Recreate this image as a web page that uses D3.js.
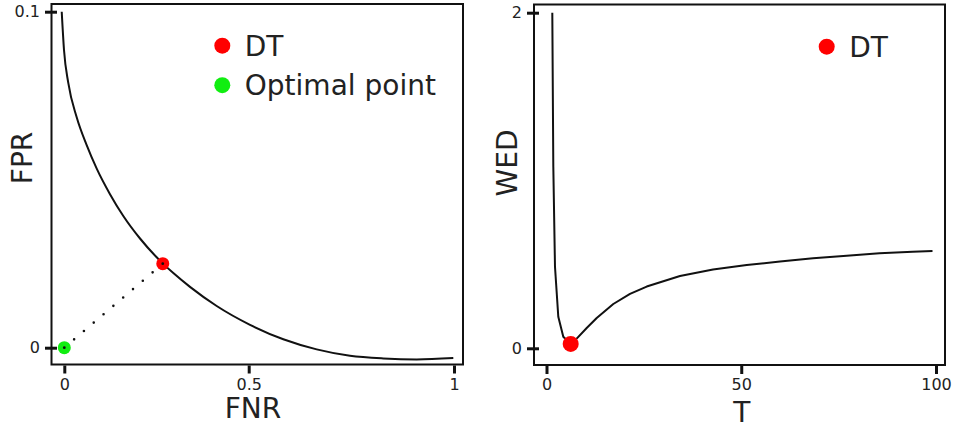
<!DOCTYPE html>
<html>
<head>
<meta charset="utf-8">
<script src="https://cdn.jsdelivr.net/npm/d3@7"></script>
<style>
  html, body { margin: 0; padding: 0; background: #fff; }
  svg { display: block; font-family: "DejaVu Sans", sans-serif; }
</style>
</head>
<body>
<svg id="chart" width="955" height="429"></svg>
<script>
// ---------- data ----------
const fnrValues = [-0.0070, -0.0008, 0.0108, 0.0336, 0.0607, 0.0879, 0.1239, 0.1600, 0.2053, 0.2505, 0.2668, 0.2956, 0.3408, 0.4132, 0.5032, 0.5843, 0.6656, 0.7467, 0.8278, 0.9091, 0.9983];
const fprValues = [0.1000, 0.0886, 0.0788, 0.0686, 0.0603, 0.0533, 0.0457, 0.0392, 0.0325, 0.0269, 0.0251, 0.0222, 0.0181, 0.0124, 0.0068, 0.0025, -0.0005, -0.0024, -0.0032, -0.0035, -0.0031];

const tValues   = [1.49, 1.75, 2.18, 3.03, 4.31, 6.21, 7.75, 10.32, 12.89, 17.15, 21.44, 25.73, 34.27, 42.75, 51.40, 59.95, 68.43, 77.07, 85.5, 94.0, 99.1];
const wedValues = [2.0, 1.082, 0.486, 0.188, 0.069, 0.026, 0.058, 0.121, 0.181, 0.264, 0.324, 0.368, 0.431, 0.470, 0.496, 0.517, 0.536, 0.552, 0.566, 0.576, 0.580];

const dtRoc = [0.267, 0.025];      // [FNR, FPR]
const optimalPoint = [0, 0];       // [FNR, FPR]
const dtWed = [6.21, 0.026];       // [T, WED]

const leftXTicks = [0, 0.5, 1];
const leftYTicks = [0, 0.1];
const rightXTicks = [0, 50, 100];
const rightYTicks = [0, 2];

const leftLegend = ["DT", "Optimal point"];
const rightLegend = ["DT"];
const colors = { dt: "#ff0000", optimal: "#11ee11", ink: "#111", text: "#222" };

// ---------- drawing ----------
const svg = d3.select("#chart");

// Left panel scales
const xL = d3.scaleLinear().domain([0, 0.5, 1]).range([64.3, 248.7, 454]);
const yL = d3.scaleLinear().domain([0, 0.1]).range([347.7, 11.7]);
// Right panel scales
const xR = d3.scaleLinear().domain([0, 100]).range([546.5, 936]);
const yR = d3.scaleLinear().domain([0, 2]).range([348.3, 12.7]);

function frame(x0, y0, x1, y1) {
  svg.append("rect")
    .attr("x", x0).attr("y", y0)
    .attr("width", x1 - x0).attr("height", y1 - y0)
    .attr("fill", "none").attr("stroke", colors.ink).attr("stroke-width", 2);
}
frame(51.5, 4, 463, 364.5);
frame(534, 4.5, 945, 365);

function styleAxis(g) {
  g.select(".domain").remove();
  g.selectAll(".tick line").attr("stroke", colors.ink).attr("stroke-width", 3);
  g.selectAll(".tick text").attr("fill", colors.text)
    .style("font-family", "'DejaVu Sans', sans-serif").style("font-size", "16px");
}

// Left axes
svg.append("g").attr("transform", "translate(0,365.5)")
  .call(d3.axisBottom(xL).tickValues(leftXTicks).tickFormat(d => String(d)).tickSize(8).tickPadding(5))
  .call(styleAxis);
svg.append("g").attr("transform", "translate(57,0)")
  .call(d3.axisLeft(yL).tickValues(leftYTicks).tickFormat(d => String(d)).tickSize(12).tickPadding(5))
  .call(styleAxis);

// Right axes
svg.append("g").attr("transform", "translate(0,366)")
  .call(d3.axisBottom(xR).tickValues(rightXTicks).tickFormat(d => String(d)).tickSize(8).tickPadding(5))
  .call(styleAxis);
svg.append("g").attr("transform", "translate(539,0)")
  .call(d3.axisLeft(yR).tickValues(rightYTicks).tickFormat(d => String(d)).tickSize(12).tickPadding(5))
  .call(styleAxis);

// Axis titles
function label(text, x, y, rotate) {
  const t = svg.append("text").text(text)
    .attr("fill", colors.text).style("font-size", "28px").attr("text-anchor", "middle");
  if (rotate) t.attr("transform", `translate(${x},${y}) rotate(-90)`);
  else t.attr("x", x).attr("y", y);
}
label("FNR", 253, 418, false);
label("FPR", 31.5, 158, true);
label("T", 741.7, 421.5, false);
label("WED", 516.5, 163, true);

// Left curve
const rocData = fnrValues.map((f, i) => [f, fprValues[i]]);
svg.append("path")
  .datum(rocData)
  .attr("d", d3.line().x(d => xL(d[0])).y(d => yL(d[1])).curve(d3.curveMonotoneX))
  .attr("fill", "none").attr("stroke", colors.ink).attr("stroke-width", 2);

// Dotted connection
svg.append("line")
  .attr("x1", xL(optimalPoint[0])).attr("y1", yL(optimalPoint[1]))
  .attr("x2", xL(dtRoc[0])).attr("y2", yL(dtRoc[1]))
  .attr("stroke", colors.ink).attr("stroke-width", 2.6)
  .attr("stroke-linecap", "round").attr("stroke-dasharray", "0,12.9");

// Points on left
svg.append("circle").attr("cx", xL(dtRoc[0])).attr("cy", yL(dtRoc[1])).attr("r", 6.5).attr("fill", colors.dt);
svg.append("circle").attr("cx", xL(dtRoc[0])).attr("cy", yL(dtRoc[1])).attr("r", 1.4).attr("fill", colors.ink);
svg.append("circle").attr("cx", xL(optimalPoint[0])).attr("cy", yL(optimalPoint[1])).attr("r", 6.5).attr("fill", colors.optimal);
svg.append("circle").attr("cx", xL(optimalPoint[0])).attr("cy", yL(optimalPoint[1])).attr("r", 1.4).attr("fill", colors.ink);

// Right curve
const wedData = tValues.map((t, i) => [t, wedValues[i]]);
svg.append("path")
  .datum(wedData)
  .attr("d", d3.line().x(d => xR(d[0])).y(d => yR(d[1])).curve(d3.curveLinear))
  .attr("fill", "none").attr("stroke", colors.ink).attr("stroke-width", 2)
  .attr("stroke-linejoin", "round");
svg.append("circle").attr("cx", xR(dtWed[0])).attr("cy", yR(dtWed[1])).attr("r", 8).attr("fill", colors.dt);

// Legends
function legend(x, y, items, cols, gap) {
  items.forEach((name, i) => {
    svg.append("circle").attr("cx", x).attr("cy", y + i * gap).attr("r", 8).attr("fill", cols[i]);
    svg.append("text").text(name)
      .attr("x", x + 22.5).attr("y", y + i * gap + 9.8)
      .attr("fill", colors.text).style("font-size", "28px");
  });
}
legend(222.3, 45.7, leftLegend, [colors.dt, colors.optimal], 39.5);
legend(826.7, 46.7, rightLegend, [colors.dt], 39.5);
</script>
</body>
</html>
